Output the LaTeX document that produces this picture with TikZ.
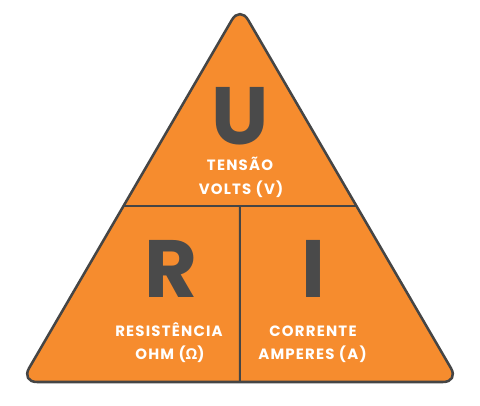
\documentclass[tikz,border=0pt]{standalone}
\usepackage{fontspec}
\setmainfont{Poppins}[BoldFont={Poppins Bold}]
\newfontfamily\labelfont{Poppins Bold}[LetterSpace=8]
\newfontfamily\greekfont{Open Sans Bold}
\usetikzlibrary{calc}
\definecolor{tri}{HTML}{F68C2E}
\definecolor{edge}{HTML}{454545}
\definecolor{letter}{HTML}{4A4A4A}
\tikzset{
  bigletter/.style={text=letter,font=\fontsize{61}{61}\selectfont\bfseries,inner sep=0pt,anchor=base},
  label/.style={text=white,font=\fontsize{11.2}{12}\labelfont,inner sep=0pt,anchor=base},
  divider/.style={draw=edge,line width=1.5pt}
}
\begin{document}
\begin{tikzpicture}[x=0.75pt,y=-0.75pt]
\useasboundingbox (0,0) rectangle (480,406);
\coordinate (top) at (240,6);
\coordinate (br) at (459,382);
\coordinate (bl) at (21,382);
\fill[tri,draw=edge,line width=1.9pt,rounded corners=12pt] (top) -- (br) -- (bl) -- cycle;
\coordinate (hl) at ($(top)!0.532!(bl)$);
\coordinate (hr) at ($(top)!0.532!(br)$);
\coordinate (hm) at ($(hl)!0.5!(hr)$);
\coordinate (bm) at ($(bl)!0.5!(br)$);
\draw[divider] (hl) -- (hr);
\draw[divider] (hm) -- (bm);
\node[bigletter] (U) at (240,145) {U};
\node[bigletter] (R) at (171,298) {R};
\node[bigletter] (I) at (313.5,298) {I};
\node[label] (U1) at (240,170.5) {TENSÃO};
\node[label] (U2) at (241,195) {VOLTS (V)};
\node[label] (R1) at (169,337) {RESISTÊNCIA};
\node[label] (R2) at (170,360) {OHM ({\greekfont Ω})};
\node[label] (I1) at (313,337) {CORRENTE};
\node[label] (I2) at (312.5,360) {AMPERES (A)};
\end{tikzpicture}
\end{document}
